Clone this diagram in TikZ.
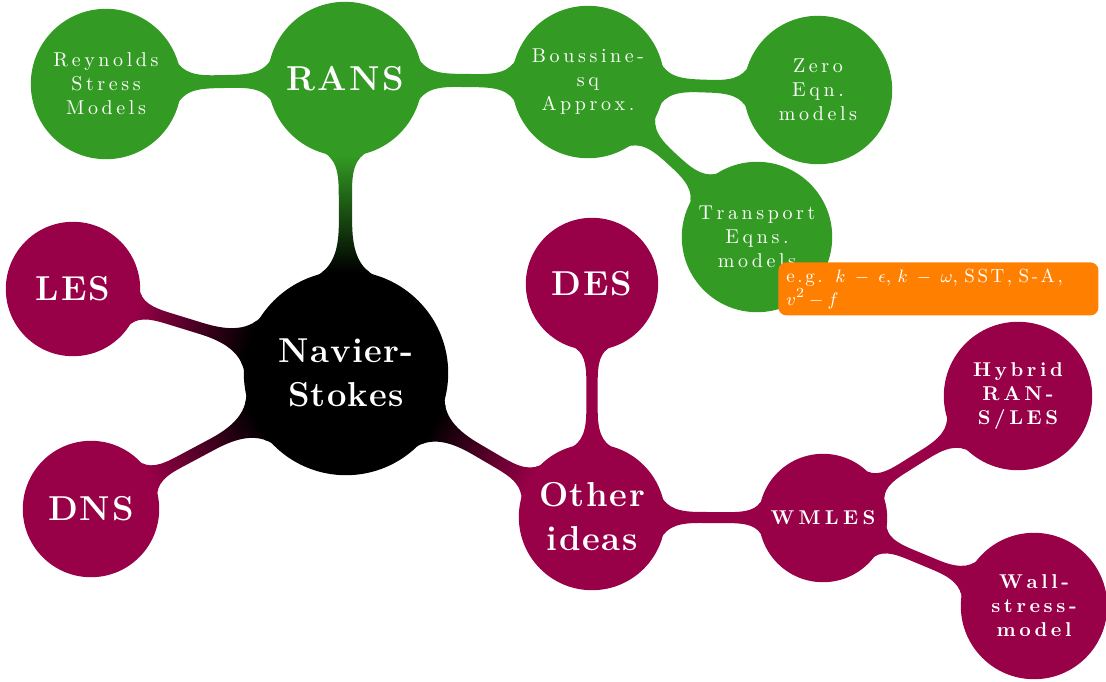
\documentclass[tikz,border=0pt]{standalone}
\usepackage{fontspec}
\usetikzlibrary{mindmap}
\definecolor{mag}{RGB}{152,0,72}
\definecolor{grn}{RGB}{51,155,35}
\definecolor{org}{RGB}{255,128,0}
\makeatletter
\newcommand\ls[2][1.8pt]{\def\ls@k{#1}\@tfor\ls@c:=#2\do{\ls@c\kern\ls@k\relax}\kern-\ls@k\relax}
\makeatother
\begin{document}
\begin{tikzpicture}[x=0.5pt,y=0.5pt,
  big/.style={font=\LARGE\bfseries},
  smalltext/.style={font=\normalsize},
  smallbold/.style={font=\normalsize\bfseries},
  cc/.style={concept, text=white, align=center, text width=, inner sep=0pt}]
\useasboundingbox (0,0) rectangle (1106,-681);
\begin{scope}[mindmap]
  \node[cc, concept color=black, minimum size=101pt, big] (ns) at (346,-373) {\ls[0.6pt]{Navier-}\\\ls[0.6pt]{Stokes}};
  \node[cc, concept color=grn, minimum size=76pt, big] (rans) at (345,-79) {\ls[1.2pt]{RANS}};
  \node[cc, concept color=grn, minimum size=74pt, smalltext] (rsm) at (106,-84) {\ls{Reynolds}\\\ls{Stress}\\\ls{Models}};
  \node[cc, concept color=grn, minimum size=75pt, smalltext] (bou) at (588,-82) {\ls{Boussine-}\\\ls{sq}\\\ls{Approx.}};
  \node[cc, concept color=grn, minimum size=73pt, smalltext] (zero) at (818,-90) {\ls{Zero}\\\ls{Eqn.}\\\ls{models}};
  \node[cc, concept color=grn, minimum size=74pt, smalltext] (trans) at (757,-237) {\ls{Transport}\\\ls{Eqns.}\\\ls{models}};
  \node[cc, concept color=mag, minimum size=66pt, big] (les) at (73,-289) {\ls[1pt]{LES}};
  \node[cc, concept color=mag, minimum size=67pt, big] (dns) at (91,-509) {\ls[1pt]{DNS}};
  \node[cc, concept color=mag, minimum size=65pt, big] (des) at (592,-284) {\ls[1pt]{DES}};
  \node[cc, concept color=mag, minimum size=72pt, big] (other) at (592,-517) {\ls[0.8pt]{Other}\\\ls[0.8pt]{ideas}};
  \node[cc, concept color=mag, minimum size=63pt, smallbold] (wmles) at (823,-518) {\ls[2.2pt]{WMLES}};
  \node[cc, concept color=mag, minimum size=73pt, smallbold] (hyb) at (1018,-396) {\ls{Hybrid}\\\ls{RAN-}\\\ls{S/LES}};
  \node[cc, concept color=mag, minimum size=72pt, smallbold] (wall) at (1034,-606) {\ls{Wall-}\\\ls{stress-}\\\ls{model}};

  \path (ns) to[circle connection bar switch color=from (black) to (grn)] (rans);
  \path (ns) to[circle connection bar switch color=from (black) to (mag)] (les);
  \path (ns) to[circle connection bar switch color=from (black) to (mag)] (dns);
  \path (ns) to[circle connection bar switch color=from (black) to (mag)] (other);
  \path (rans) to[circle connection bar switch color=from (grn) to (grn)] (rsm);
  \path (rans) to[circle connection bar switch color=from (grn) to (grn)] (bou);
  \path (bou) to[circle connection bar switch color=from (grn) to (grn)] (zero);
  \path (bou) to[circle connection bar switch color=from (grn) to (grn)] (trans);
  \path (other) to[circle connection bar switch color=from (mag) to (mag)] (des);
  \path (other) to[circle connection bar switch color=from (mag) to (mag)] (wmles);
  \path (wmles) to[circle connection bar switch color=from (mag) to (mag)] (hyb);
  \path (wmles) to[circle connection bar switch color=from (mag) to (mag)] (wall);
\end{scope}
\node[fill=org, rounded corners=4pt, text=white, text width=152pt, align=left,
  inner xsep=4pt, inner ysep=3pt, minimum height=26.5pt, anchor=north west,
  font=\fontsize{9.5}{9.5}\selectfont] (note) at (778,-262)
  {\ls[1.3pt]{e.g.}\ \ $k\mskip 5mu-\mskip 5mu\epsilon$, $k\mskip 5mu-\mskip 5mu\omega$, \ls[1.3pt]{SST,} \ls[1.3pt]{S-A,}\\$v^2-f$};
\end{tikzpicture}
\end{document}
